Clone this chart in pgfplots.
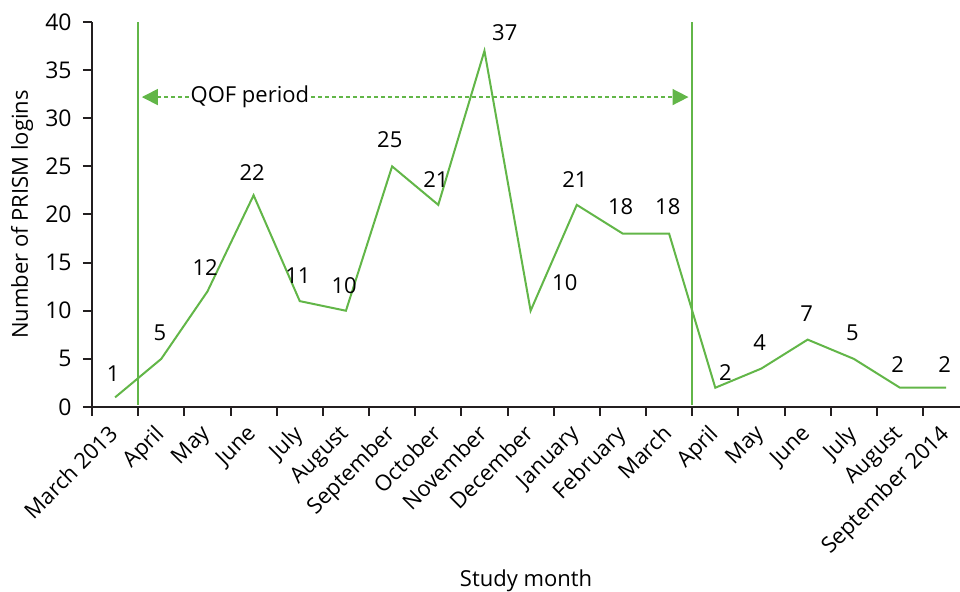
\documentclass[border=0pt]{standalone}
\usepackage{fontspec}
\setmainfont{Open Sans}
\usepackage{pgfplots}
\pgfplotsset{compat=1.18}
\usetikzlibrary{arrows.meta}
\definecolor{qgreen}{RGB}{98,182,72}
\definecolor{axgray}{RGB}{35,31,32}
\begin{document}
\begin{tikzpicture}
\useasboundingbox (-46pt,-92.5pt) rectangle (434pt,203.5pt);
\begin{axis}[
  at={(0,0)}, anchor=south west,
  scale only axis,
  width=434pt, height=192.5pt,
  xmin=-0.5, xmax=18.3,
  ymin=0, ymax=40,
  axis x line*=bottom,
  axis y line*=left,
  axis line style={axgray, line width=1pt, -},
  xtick={0,...,18},
  xticklabels={March 2013,April,May,June,July,August,September,October,November,December,January,February,March,April,May,June,July,August,September 2014},
  minor xtick={-0.5,0.5,...,18.5},
  major x tick style={draw=none},
  minor x tick style={axgray, line width=1pt},
  ytick={0,5,...,40},
  y tick style={axgray, line width=1pt},
  tick align=outside,
  major tick length=4.5pt,
  minor tick length=4.5pt,
  /pgf/number format/assume math mode=true,
  tick label style={font=\fontsize{11.5}{13}\selectfont, text=black},
  xticklabel style={xshift=-4pt, yshift=-2pt, rotate=45, anchor=north east, inner sep=1pt, font=\fontsize{11}{13}\selectfont},
  yticklabel style={inner sep=2pt, xshift=-3.5pt},
  xlabel={Study month},
  ylabel={Number of PRISM logins},
  label style={font=\fontsize{11}{13}\selectfont},
  xlabel style={at={(axis description cs:0.5,0)}, anchor=center, yshift=-87pt},
  ylabel style={at={(axis description cs:-0.0806,0.5)}, anchor=center},
  clip=false,
]
\addplot[qgreen, line width=1pt, mark=none] coordinates {
(0,1)(1,5)(2,12)(3,22)(4,11)(5,10)(6,25)(7,21)(8,37)(9,10)(10,21)(11,18)(12,18)(13,2)(14,4)(15,7)(16,5)(17,2)(18,2)};
\addplot[qgreen, line width=1pt, mark=none] coordinates {(0.5,0.2)(0.5,40)};
\addplot[qgreen, line width=1pt, mark=none] coordinates {(12.5,0.2)(12.5,40)};
\addplot[qgreen, line width=0.8pt, dash pattern=on 2pt off 1.5pt, {Triangle[length=8pt,width=8pt]}-{Triangle[length=8pt,width=8pt]}, mark=none] coordinates {(0.58,32.2)(12.42,32.2)};
\node[fill=white, inner sep=1pt, font=\fontsize{11}{13}\selectfont] at (axis cs:2.92,32.2) {QOF period};
\begin{scope}[every node/.style={font=\fontsize{11}{13}\selectfont, inner sep=0pt}]
\node at (axis cs:-0.04,3.43) {1};
\node at (axis cs:0.97,7.7) {5};
\node at (axis cs:1.95,14.5) {12};
\node at (axis cs:2.97,24.4) {22};
\node at (axis cs:3.96,13.6) {11};
\node at (axis cs:4.96,12.6) {10};
\node at (axis cs:5.95,27.8) {25};
\node at (axis cs:6.95,23.6) {21};
\node at (axis cs:8.44,38.9) {37};
\node at (axis cs:9.74,12.9) {10};
\node at (axis cs:9.96,23.6) {21};
\node at (axis cs:10.95,20.8) {18};
\node at (axis cs:11.97,20.8) {18};
\node at (axis cs:13.22,3.6) {2};
\node at (axis cs:13.96,6.65) {4};
\node at (axis cs:14.98,9.66) {7};
\node at (axis cs:15.97,7.7) {5};
\node at (axis cs:16.95,4.36) {2};
\node at (axis cs:17.97,4.36) {2};
\end{scope}
\end{axis}
\end{tikzpicture}
\end{document}
